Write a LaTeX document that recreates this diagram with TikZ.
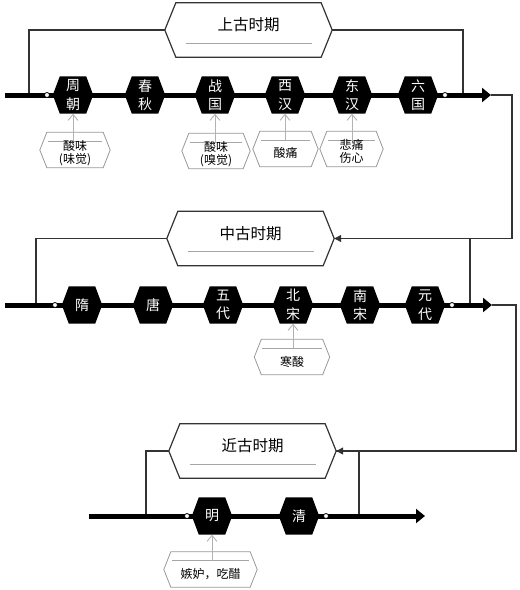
\documentclass[tikz,border=0pt]{standalone}
\usepackage{fontspec}
\setmainfont{Noto Sans CJK SC}
\usetikzlibrary{arrows.meta,backgrounds}
\newcommand\mkhexa[3]{\path[#3] (#1.west) -- ([xshift=#2]#1.north west) -- ([xshift=-#2]#1.north east) -- (#1.east) -- ([xshift=-#2]#1.south east) -- ([xshift=#2]#1.south west) -- cycle;}
\newcommand\mkinner[2]{\draw[innerline] ([xshift=#2,yshift=-9pt]#1.north west) -- ([xshift=-#2,yshift=-9pt]#1.north east);}
\begin{document}
\begin{tikzpicture}[x=1pt,y=-1pt,
  hexn/.style={minimum width=40pt,minimum height=37pt,inner sep=0pt,text=white,align=center,font=\fontsize{14}{18.5}\selectfont},
  titlen/.style={minimum width=167pt,minimum height=54pt,inner sep=0pt,
     label={[font=\fontsize{15.5}{18}\selectfont,yshift=5pt,text=black]center:#1}},
  annn/.style={minimum height=35pt,inner sep=0pt,minimum width=#1},
  anntext/.style={font=\fontsize{12}{13}\selectfont,align=center,text=black},
  dot/.style={circle,draw=black,fill=white,line width=0.8pt,minimum size=5pt,inner sep=0pt},
  bar/.style={line width=5pt,black,-{Triangle[length=9pt,width=14pt]}},
  loopline/.style={draw=black!80,line width=1.1pt},
  link/.style={draw=black!80,line width=1.1pt,-{Triangle[length=7pt,width=7pt]}},
  titleshape/.style={fill=white,draw=black!80,line width=1.2pt},
  annshape/.style={fill=white,draw=black!40,line width=0.8pt},
  innerline/.style={draw=black!35,line width=0.9pt},
  annarrow/.style={draw=black!30,line width=0.9pt,-{Straight Barb[length=6pt,width=10pt]}},
  hexfill/.style={fill=black}]
\useasboundingbox (0,0) rectangle (520,590);

% ---------- row 1 ----------
\coordinate (s1) at (5,95);
\coordinate (e1) at (491,95);
\node[hexn] (zhou) at (73,95) {周\\朝};
\node[hexn] (chun) at (145,95) {春\\秋};
\node[hexn] (zhan) at (215,95) {战\\国};
\node[hexn] (xihan) at (285,95) {西\\汉};
\node[hexn] (donghan) at (352,95) {东\\汉};
\node[hexn] (liu) at (418,95) {六\\国};
\node[titlen=上古时期] (t1) at (248.5,30) {};
\node[annn=70pt,label={[anntext,yshift=-3pt]center:{酸味\\(味觉)}}] (a1) at (75,150) {};
\node[annn=68pt,label={[anntext,yshift=-3pt]center:{酸味\\(嗅觉)}}] (a2) at (216,151) {};
\node[annn=65pt,label={[anntext,yshift=-4pt]center:{酸痛}}] (a3) at (285.5,149) {};
\node[annn=63pt,label={[anntext,yshift=-2pt]center:{悲痛\\伤心}}] (a4) at (351.5,149) {};
\node[dot] (c1a) at (47,95) {};
\node[dot] (c1b) at (445,95) {};

% ---------- row 2 ----------
\coordinate (s2) at (5,305);
\coordinate (e2) at (492,305);
\node[hexn] (sui) at (82,305) {隋};
\node[hexn] (tang) at (153,305) {唐};
\node[hexn] (wudai) at (223,305) {五\\代};
\node[hexn] (beisong) at (293,305) {北\\宋};
\node[hexn] (nansong) at (360,305) {南\\宋};
\node[hexn] (yuan) at (425,305) {元\\代};
\node[titlen=中古时期] (t2) at (250.5,238.5) {};
\node[annn=75pt,label={[anntext,yshift=-5pt]center:{寒酸}}] (b1) at (292,357) {};
\node[dot] (c2a) at (55,305) {};
\node[dot] (c2b) at (452,305) {};

% ---------- row 3 ----------
\coordinate (s3) at (89,516);
\coordinate (e3) at (425,516);
\node[hexn] (ming) at (212,516) {明};
\node[hexn] (qing) at (299,516) {清};
\node[titlen=近古时期] (t3) at (252.5,451) {};
\node[annn=93pt,label={[anntext,yshift=-4.5pt]center:{嫉妒，吃醋}}] (d1) at (210.5,569.5) {};
\node[dot] (c3a) at (187,516) {};
\node[dot] (c3b) at (326,516) {};

\begin{scope}[on background layer]
  % loops and links
  \draw[loopline] (c1a) -- ++(-18,0) |- (t1.west);
  \draw[loopline] (c1b) -- ++(18,0) |- (t1.east);
  \draw[loopline] (c2a) -- ++(-19,0) |- (t2.west);
  \draw[loopline] (c2b) -- ++(18,0) |- (t2.east);
  \draw[loopline] (c3a) -- ++(-41,0) |- (t3.west);
  \draw[loopline] (c3b) -- ++(33,0) |- (t3.east);
  \draw[link] (e1) -- ++(21,0) |- (t2.east);
  \draw[link] (e2) -- ++(24,0) |- (t3.east);
  % bars
  \draw[bar] (s1) -- (e1);
  \draw[bar] (s2) -- (e2);
  \draw[bar] (s3) -- (e3);
  % hexagons
  \foreach \h in {zhou,chun,zhan,xihan,donghan,liu,sui,tang,wudai,beisong,nansong,yuan,ming,qing}
    {\mkhexa{\h}{7pt}{hexfill}}
  % titles
  \foreach \t in {t1,t2,t3}
    {\mkhexa{\t}{11pt}{titleshape}
     \draw[innerline] ([xshift=-63pt,yshift=-13pt]\t.center) -- ([xshift=63pt,yshift=-13pt]\t.center);}
  % annotations
  \foreach \a in {a1,a2,a3,a4,b1,d1}
    {\mkhexa{\a}{7pt}{annshape}
     \mkinner{\a}{8pt}}
  \draw[annarrow] ([yshift=-9pt]zhou.south |- a1.north) -- (zhou.south);
  \draw[annarrow] ([yshift=-9pt]zhan.south |- a2.north) -- (zhan.south);
  \draw[annarrow] ([yshift=-9pt]xihan.south |- a3.north) -- (xihan.south);
  \draw[annarrow] ([yshift=-9pt]donghan.south |- a4.north) -- (donghan.south);
  \draw[annarrow] ([yshift=-9pt]beisong.south |- b1.north) -- (beisong.south);
  \draw[annarrow] ([yshift=-9pt]ming.south |- d1.north) -- (ming.south);
\end{scope}
\end{tikzpicture}
\end{document}
